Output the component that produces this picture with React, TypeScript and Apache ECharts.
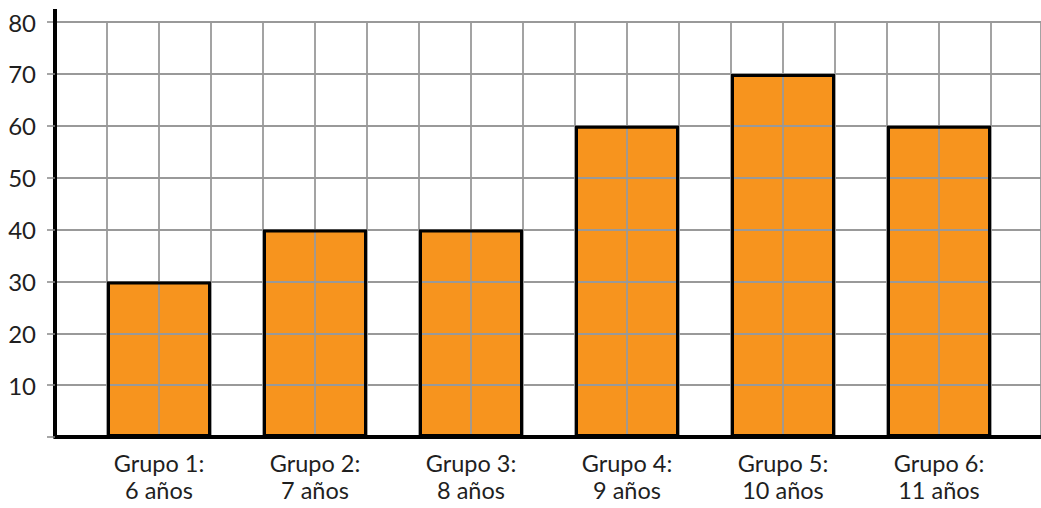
import React, { useEffect, useRef } from "react";
import * as echarts from "echarts";

const categories = ["Grupo 1:\n6 años", "Grupo 2:\n7 años", "Grupo 3:\n8 años", "Grupo 4:\n9 años", "Grupo 5:\n10 años", "Grupo 6:\n11 años"];
const values = [30, 40, 40, 60, 70, 60];
const yTicks = [10, 20, 30, 40, 50, 60, 70, 80];

const FONT = "Lato";

export default function App() {
  const ref = useRef<HTMLDivElement>(null);
  useEffect(() => {
    const chart = echarts.init(ref.current!, null, { renderer: "svg" });
    const gridTop = 22;
    const gridBottom = 71;
    chart.setOption({
      animation: false,
      grid: [
        { left: 55, right: 0, top: gridTop, bottom: gridBottom },
        { left: 81, right: 24, top: gridTop, bottom: gridBottom },
      ],
      xAxis: [
        {
          type: "value",
          gridIndex: 0,
          min: 0,
          max: 986 / 52,
          interval: 1,
          z: 2,
          axisLine: { show: true, onZero: false, lineStyle: { color: "#000", width: 4 } },
          axisTick: { show: false },
          axisLabel: { show: false },
          splitLine: { show: true, lineStyle: { color: "#999", width: 1.8 } },
        },
        {
          type: "category",
          gridIndex: 1,
          data: categories,
          z: 2,
          axisLine: { show: false },
          axisTick: { show: false },
          axisLabel: {
            show: true,
            interval: 0,
            margin: 12.5,
            fontFamily: FONT,
            fontSize: 23.5,
            lineHeight: 27,
            color: "#1f1f1f",
          },
          splitLine: { show: false },
        },
      ],
      yAxis: [
        {
          type: "value",
          gridIndex: 0,
          min: 0,
          max: yTicks[yTicks.length - 1],
          interval: 10,
          z: 2,
          axisLine: { show: true, onZero: false, lineStyle: { color: "#000", width: 4 } },
          axisTick: { show: true, length: 8, lineStyle: { color: "#888", width: 1.5 } },
          axisLabel: {
            show: true,
            margin: 19,
            fontFamily: FONT,
            fontSize: 24,
            color: "#1f1f1f",
            formatter: (v: number) => (yTicks.includes(v) ? String(v) : ""),
          },
          splitLine: { show: true, lineStyle: { color: "#999", width: 1.8 } },
        },
        {
          type: "value",
          gridIndex: 1,
          min: 0,
          max: yTicks[yTicks.length - 1],
          show: false,
        },
      ],
      graphic: [
        {
          type: "line",
          shape: { x1: 55, y1: 9, x2: 55, y2: gridTop + 1 },
          style: { stroke: "#000", lineWidth: 4 },
          z: 10,
        },
      ],
      series: [
        {
          type: "bar",
          xAxisIndex: 1,
          yAxisIndex: 1,
          data: values,
          barCategoryGap: "33.333%",
          barGap: "-100%",
          z: 1,
          itemStyle: { color: "#F7941E", borderWidth: 0 },
        },
        {
          type: "bar",
          xAxisIndex: 1,
          yAxisIndex: 1,
          data: values,
          barCategoryGap: "33.333%",
          barGap: "-100%",
          z: 3,
          itemStyle: { color: "transparent", borderColor: "#000", borderWidth: 3 },
        },
      ],
    });
    return () => chart.dispose();
  }, []);
  return (
    <div
      ref={ref}
      style={{ position: "absolute", left: 0, top: 0, width: 1041, height: 508, background: "#fff" }}
    />
  );
}
